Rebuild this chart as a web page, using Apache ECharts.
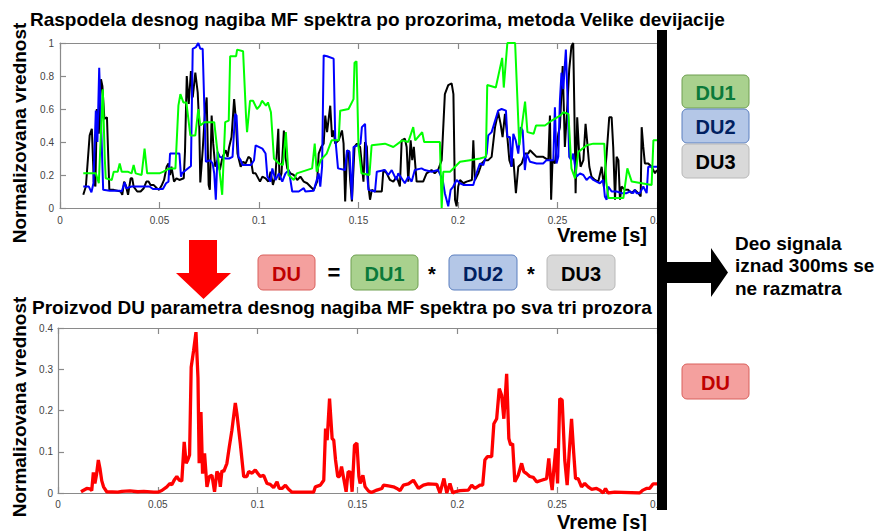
<!DOCTYPE html>
<html><head><meta charset="utf-8">
<script src="https://cdn.jsdelivr.net/npm/echarts@6.0.0/dist/echarts.min.js"></script>
<style>html,body{margin:0;padding:0;background:#fff}#c{width:877px;height:531px}</style>
</head><body><div id="c"></div>
<script>
// ---- data: [time (s), normalized value] ----
const du1Green = [[0.0117,0.21],[0.018,0.21],[0.0195,0.15],[0.0215,0.72],[0.0225,0.3],[0.023,0.18],[0.026,0.17],[0.027,0.22],[0.029,0.22],[0.030,0.27],[0.031,0.22],[0.034,0.22],[0.036,0.21],[0.037,0.26],[0.038,0.21],[0.041,0.2],[0.0425,0.36],[0.0438,0.21],[0.050,0.21],[0.052,0.22],[0.055,0.24],[0.058,0.24],[0.0595,0.62],[0.0605,0.69],[0.062,0.64],[0.0635,0.64],[0.0655,0.44],[0.068,0.44],[0.0695,0.6],[0.0705,0.5],[0.0725,0.52],[0.0775,0.52],[0.0815,0.08],[0.083,0.52],[0.0848,0.53],[0.0855,0.92],[0.0885,0.92],[0.089,0.96],[0.092,0.95],[0.0935,0.55],[0.094,0.46],[0.0955,0.65],[0.097,0.65],[0.099,0.6],[0.1005,0.62],[0.1015,0.65],[0.1035,0.62],[0.1045,0.64],[0.106,0.58],[0.1075,0.3],[0.110,0.27],[0.112,0.26],[0.1135,0.46],[0.1148,0.2],[0.1175,0.17],[0.119,0.21],[0.1267,0.24],[0.128,0.39],[0.129,0.22],[0.131,0.29],[0.134,0.33],[0.1365,0.41],[0.140,0.41],[0.1408,0.59],[0.145,0.6],[0.1475,0.66],[0.148,0.88],[0.149,0.89],[0.150,0.37],[0.1515,0.21],[0.1555,0.2],[0.1566,0.38],[0.1633,0.39],[0.1675,0.37],[0.172,0.41],[0.175,0.4],[0.1775,0.49],[0.1785,0.41],[0.182,0.46],[0.183,0.4],[0.1909,0.4],[0.1918,0.0],[0.1926,0.22],[0.196,0.22],[0.201,0.28],[0.206,0.29],[0.211,0.3],[0.214,0.31],[0.2147,0.745],[0.219,0.73],[0.2222,0.91],[0.223,0.73],[0.2248,1.0],[0.2287,1.0],[0.2308,0.38],[0.2337,0.645],[0.2349,0.46],[0.238,0.45],[0.2392,0.5],[0.2437,0.5],[0.2471,0.53],[0.2513,0.56],[0.253,0.58],[0.2555,0.57],[0.257,0.24],[0.2588,0.18],[0.2605,0.34],[0.2647,0.38],[0.268,0.39],[0.2735,0.39],[0.2745,0.16],[0.2756,0.06],[0.2831,0.06],[0.2851,0.24],[0.2873,0.16],[0.2973,0.14],[0.2982,0.41],[0.300,0.41]];

const du2Blue = [[0.0117,0.13],[0.0145,0.13],[0.0158,0.095],[0.0168,0.15],[0.018,0.59],[0.0188,0.4],[0.0197,0.85],[0.0208,0.45],[0.0217,0.11],[0.025,0.105],[0.030,0.105],[0.031,0.1],[0.0325,0.155],[0.0333,0.12],[0.036,0.13],[0.045,0.13],[0.0467,0.115],[0.0517,0.115],[0.0533,0.15],[0.0545,0.16],[0.0553,0.33],[0.060,0.33],[0.0608,0.19],[0.0613,0.21],[0.0658,0.255],[0.0667,0.965],[0.0683,0.975],[0.0695,1.0],[0.0705,0.965],[0.0717,0.965],[0.0733,0.28],[0.0753,0.29],[0.0767,0.27],[0.0775,0.21],[0.0783,0.05],[0.0792,0.34],[0.0803,0.31],[0.0833,0.3],[0.085,0.3],[0.0867,0.31],[0.088,0.57],[0.0887,0.56],[0.0897,0.31],[0.0908,0.29],[0.0917,0.26],[0.096,0.26],[0.0975,0.29],[0.0983,0.38],[0.1017,0.36],[0.1033,0.33],[0.1042,0.19],[0.1058,0.16],[0.1067,0.24],[0.1083,0.17],[0.110,0.21],[0.1117,0.16],[0.1133,0.21],[0.115,0.23],[0.1167,0.1],[0.120,0.1],[0.1225,0.12],[0.1233,0.1],[0.1275,0.105],[0.1283,0.14],[0.130,0.21],[0.1308,0.13],[0.1317,0.25],[0.1325,0.925],[0.1342,0.92],[0.1375,0.905],[0.1383,0.43],[0.1397,0.24],[0.1433,0.23],[0.1442,0.35],[0.1455,0.34],[0.1467,0.05],[0.1475,0.37],[0.1497,0.38],[0.151,0.39],[0.1517,0.49],[0.1533,0.51],[0.1542,0.23],[0.155,0.11],[0.1583,0.1],[0.1592,0.22],[0.1633,0.23],[0.165,0.2],[0.1667,0.23],[0.169,0.17],[0.170,0.21],[0.1733,0.15],[0.175,0.19],[0.1767,0.16],[0.1783,0.23],[0.1817,0.24],[0.1833,0.23],[0.1867,0.22],[0.190,0.23],[0.1923,0.17],[0.1934,0.09],[0.1951,0.01],[0.1963,0.11],[0.1976,0.13],[0.1993,0.17],[0.201,0.15],[0.2027,0.14],[0.2077,0.14],[0.2093,0.21],[0.211,0.27],[0.2127,0.26],[0.2144,0.33],[0.2152,0.44],[0.2169,0.46],[0.2202,0.59],[0.2219,0.6],[0.2241,0.59],[0.2248,0.43],[0.2261,0.43],[0.2269,0.25],[0.2278,0.45],[0.229,0.41],[0.2303,0.33],[0.2315,0.49],[0.2325,0.47],[0.2336,0.23],[0.2345,0.33],[0.2362,0.28],[0.2395,0.27],[0.2428,0.27],[0.2445,0.29],[0.2479,0.29],[0.2487,0.61],[0.2495,0.27],[0.2504,0.31],[0.2512,0.65],[0.252,0.82],[0.2529,0.72],[0.2542,0.96],[0.2551,0.65],[0.2559,0.31],[0.257,0.29],[0.2579,0.33],[0.2596,0.19],[0.2613,0.21],[0.263,0.2],[0.2646,0.17],[0.2663,0.19],[0.268,0.17],[0.2696,0.16],[0.2713,0.15],[0.273,0.17],[0.2738,0.07],[0.2747,0.05],[0.2755,0.13],[0.2772,0.1],[0.2797,0.1],[0.2822,0.09],[0.2847,0.09],[0.2864,0.1],[0.288,0.09],[0.2889,0.11],[0.2897,0.09],[0.2914,0.09],[0.2931,0.13],[0.2948,0.09],[0.2956,0.25],[0.300,0.25]];

const du3Black = [[0.0117,0.08],[0.013,0.13],[0.0149,0.44],[0.016,0.48],[0.017,0.16],[0.0178,0.13],[0.0185,0.6],[0.0195,0.45],[0.0206,0.78],[0.0213,0.74],[0.0223,0.54],[0.0236,0.55],[0.0248,0.11],[0.027,0.11],[0.0305,0.1],[0.0313,0.08],[0.0322,0.16],[0.033,0.14],[0.0342,0.08],[0.0355,0.18],[0.0363,0.18],[0.037,0.13],[0.0388,0.1],[0.0405,0.1],[0.0421,0.12],[0.0434,0.16],[0.0445,0.16],[0.0455,0.14],[0.047,0.14],[0.0487,0.12],[0.0498,0.11],[0.0512,0.14],[0.0523,0.17],[0.0536,0.25],[0.0545,0.27],[0.0553,0.2],[0.056,0.25],[0.0573,0.16],[0.0585,0.18],[0.060,0.17],[0.0622,0.18],[0.0628,0.34],[0.0637,0.8],[0.0647,0.63],[0.0658,0.83],[0.0667,0.67],[0.068,0.82],[0.0692,0.7],[0.070,0.49],[0.0705,0.155],[0.0717,0.35],[0.0728,0.57],[0.0737,0.67],[0.0747,0.14],[0.0753,0.11],[0.0762,0.56],[0.077,0.39],[0.078,0.25],[0.0792,0.29],[0.0803,0.23],[0.0817,0.31],[0.0833,0.35],[0.0842,0.31],[0.085,0.37],[0.0862,0.43],[0.0875,0.66],[0.0883,0.55],[0.0892,0.33],[0.090,0.29],[0.0908,0.25],[0.092,0.28],[0.0933,0.27],[0.0947,0.31],[0.0958,0.3],[0.097,0.21],[0.0983,0.21],[0.1005,0.16],[0.1017,0.19],[0.1033,0.18],[0.1047,0.16],[0.1058,0.22],[0.107,0.14],[0.1083,0.2],[0.1097,0.48],[0.1103,0.17],[0.1113,0.21],[0.1125,0.47],[0.1133,0.31],[0.1142,0.24],[0.1158,0.21],[0.1175,0.2],[0.1192,0.17],[0.1208,0.19],[0.1225,0.16],[0.1242,0.15],[0.1258,0.13],[0.1275,0.11],[0.1292,0.16],[0.130,0.33],[0.1313,0.37],[0.1325,0.39],[0.1333,0.56],[0.1342,0.46],[0.135,0.54],[0.1358,0.62],[0.1367,0.43],[0.1375,0.47],[0.1383,0.39],[0.140,0.41],[0.1417,0.47],[0.1425,0.39],[0.1433,0.04],[0.1442,0.33],[0.145,0.35],[0.1458,0.17],[0.1467,0.04],[0.148,0.37],[0.1492,0.39],[0.1508,0.37],[0.1525,0.16],[0.1533,0.4],[0.1542,0.37],[0.155,0.13],[0.1558,0.05],[0.1567,0.11],[0.1583,0.1],[0.1617,0.1],[0.1625,0.23],[0.1642,0.21],[0.1658,0.17],[0.1675,0.16],[0.1692,0.19],[0.1708,0.13],[0.1717,0.41],[0.1733,0.42],[0.1742,0.37],[0.175,0.16],[0.1762,0.41],[0.177,0.29],[0.1778,0.37],[0.1792,0.16],[0.1825,0.16],[0.1842,0.21],[0.1867,0.23],[0.1883,0.21],[0.190,0.23],[0.1918,0.29],[0.1934,0.69],[0.1951,0.745],[0.1968,0.755],[0.1977,0.69],[0.1985,0.05],[0.1993,0.01],[0.2001,0.13],[0.201,0.17],[0.2027,0.15],[0.2043,0.16],[0.207,0.17],[0.2077,0.41],[0.2085,0.17],[0.2102,0.21],[0.2119,0.27],[0.2135,0.29],[0.2152,0.29],[0.2169,0.31],[0.2186,0.49],[0.2202,0.58],[0.2214,0.51],[0.2224,0.43],[0.2236,0.57],[0.2248,0.43],[0.2258,0.29],[0.2269,0.25],[0.2278,0.3],[0.2291,0.09],[0.2303,0.25],[0.232,0.27],[0.2336,0.33],[0.2353,0.33],[0.2362,0.35],[0.2378,0.33],[0.2395,0.31],[0.2428,0.31],[0.2454,0.29],[0.2462,0.56],[0.2468,0.05],[0.2475,0.29],[0.2487,0.27],[0.2504,0.45],[0.2512,0.49],[0.2526,0.86],[0.2537,0.37],[0.255,0.63],[0.2559,0.84],[0.257,0.98],[0.2579,1.0],[0.2584,0.65],[0.2591,0.09],[0.2599,0.55],[0.2608,0.35],[0.2616,0.25],[0.263,0.29],[0.2641,0.51],[0.265,0.39],[0.266,0.25],[0.2671,0.19],[0.2688,0.17],[0.2705,0.16],[0.2722,0.25],[0.2733,0.13],[0.2747,0.33],[0.276,0.55],[0.2772,0.55],[0.278,0.37],[0.2789,0.05],[0.2797,0.31],[0.2806,0.29],[0.2814,0.05],[0.2822,0.13],[0.2839,0.11],[0.2856,0.11],[0.2872,0.09],[0.2889,0.11],[0.2906,0.09],[0.2918,0.07],[0.2923,0.49],[0.2931,0.37],[0.2939,0.27],[0.2956,0.27],[0.2973,0.25],[0.299,0.21],[0.300,0.23]];

const duRed = [[0.0115,0.003],[0.0144,0.011],[0.016,0.01],[0.0169,0.006],[0.0177,0.05],[0.0185,0.023],[0.0193,0.045],[0.0202,0.08],[0.021,0.06],[0.0219,0.03],[0.0228,0.015],[0.0244,0.003],[0.03,0.002],[0.032,0.004],[0.036,0.005],[0.04,0.003],[0.043,0.004],[0.048,0.002],[0.05,0.002],[0.052,0.006],[0.0545,0.015],[0.056,0.023],[0.057,0.02],[0.0584,0.033],[0.0595,0.04],[0.0607,0.031],[0.062,0.029],[0.0632,0.124],[0.0642,0.072],[0.065,0.08],[0.0659,0.092],[0.0667,0.305],[0.0679,0.345],[0.0691,0.39],[0.0701,0.28],[0.0707,0.072],[0.0716,0.196],[0.0724,0.047],[0.0734,0.096],[0.0746,0.015],[0.0758,0.04],[0.0771,0.043],[0.0784,0.003],[0.0796,0.052],[0.0805,0.045],[0.0813,0.015],[0.0821,0.054],[0.083,0.052],[0.0846,0.072],[0.0858,0.112],[0.0871,0.152],[0.0888,0.218],[0.0896,0.192],[0.0913,0.12],[0.093,0.04],[0.0946,0.04],[0.0955,0.052],[0.0972,0.048],[0.0988,0.056],[0.1,0.048],[0.1013,0.04],[0.103,0.043],[0.1047,0.023],[0.1063,0.021],[0.108,0.013],[0.1097,0.027],[0.1108,0.011],[0.1122,0.011],[0.1139,0.019],[0.1155,0.009],[0.1172,0.002],[0.128,0.002],[0.1289,0.015],[0.1314,0.019],[0.1331,0.031],[0.134,0.156],[0.1348,0.128],[0.136,0.229],[0.1373,0.132],[0.1381,0.128],[0.139,0.08],[0.1401,0.04],[0.141,0.04],[0.142,0.064],[0.1431,0.035],[0.1443,0.003],[0.1453,0.052],[0.1465,0.05],[0.1473,0.003],[0.1485,0.116],[0.1497,0.121],[0.1507,0.04],[0.1513,0.023],[0.1527,0.043],[0.1538,0.015],[0.1555,0.005],[0.157,0.001],[0.1597,0.007],[0.1622,0.011],[0.163,0.019],[0.1655,0.017],[0.168,0.015],[0.1697,0.011],[0.1713,0.006],[0.173,0.019],[0.1755,0.022],[0.178,0.031],[0.1805,0.011],[0.183,0.019],[0.1855,0.022],[0.1897,0.021],[0.1913,0.0],[0.1933,0.035],[0.1947,0.0],[0.1963,0.023],[0.1977,0.0],[0.1988,0.003],[0.2013,0.006],[0.2055,0.007],[0.2072,0.019],[0.2088,0.011],[0.2113,0.019],[0.2127,0.019],[0.2138,0.08],[0.215,0.088],[0.2172,0.088],[0.2183,0.168],[0.2197,0.18],[0.221,0.253],[0.2222,0.237],[0.2233,0.18],[0.2247,0.289],[0.2258,0.132],[0.2267,0.116],[0.2277,0.12],[0.2288,0.027],[0.2305,0.043],[0.2322,0.072],[0.2333,0.052],[0.2347,0.047],[0.2363,0.04],[0.238,0.038],[0.2397,0.027],[0.2422,0.031],[0.2447,0.035],[0.2458,0.084],[0.2467,0.035],[0.2475,0.007],[0.2483,0.056],[0.2493,0.108],[0.2502,0.023],[0.2513,0.229],[0.2525,0.225],[0.2538,0.08],[0.255,0.019],[0.256,0.096],[0.2572,0.18],[0.2583,0.096],[0.2592,0.035],[0.2605,0.035],[0.2622,0.015],[0.2638,0.023],[0.2655,0.015],[0.2672,0.009],[0.2697,0.011],[0.2713,0.007],[0.273,0.0],[0.2742,0.011],[0.2755,0.0],[0.2788,0.002],[0.2913,0.0],[0.293,0.007],[0.2947,0.011],[0.2963,0.011],[0.298,0.022],[0.300,0.022]];

// ---- axis ranges / texts ----
const timeRange = [0, 0.3, 0.05];
const topYRange = [0, 1, 0.2];
const botYRange = [0, 0.4, 0.1];
const titleTop = 'Raspodela desnog nagiba MF spektra po prozorima, metoda Velike devijacije';
const titleBottom = 'Proizvod DU parametra desnog nagiba MF spektra po sva tri prozora';
const yName = 'Normalizovana vrednost';
const xName = 'Vreme [s]';
const noteLines = ['Deo signala', 'iznad 300ms se', 'ne razmatra'];

const FF = '"Liberation Sans", Arial, sans-serif';
const AX = '#8a8a8a';
const fmt = v => String(+(+v).toFixed(2));

function xAx(grid, pos, showLabel, margin) {
  return {
    gridIndex: grid, type: 'value', position: pos,
    min: timeRange[0], max: timeRange[1], interval: timeRange[2],
    axisLine: { show: true, onZero: false, lineStyle: { color: AX, width: 1.2 } },
    axisTick: { show: true, inside: true, length: 6, lineStyle: { color: AX, width: 1.2 } },
    axisLabel: { show: showLabel, fontSize: 10, color: '#444', fontFamily: FF, margin: margin, formatter: fmt },
    splitLine: { show: false }
  };
}
function yAx(grid, r, margin) {
  return {
    gridIndex: grid, type: 'value', min: r[0], max: r[1], interval: r[2],
    axisLine: { show: true, lineStyle: { color: AX, width: 1.2 } },
    axisTick: { show: true, inside: true, length: 6, lineStyle: { color: AX, width: 1.2 } },
    axisLabel: { fontSize: 10, color: '#444', fontFamily: FF, margin: margin, formatter: fmt },
    splitLine: { show: false }
  };
}
function txt(text, x, y, size, color, align, rot) {
  return {
    type: 'text', x: x, y: y, rotation: rot || 0, z: 50,
    style: { text: text, fill: color, font: 'bold ' + size + 'px ' + FF,
      align: align || 'center', textAlign: align || 'center', verticalAlign: 'middle', textVerticalAlign: 'middle' }
  };
}
function box(label, x, y, w, h, fill, stroke, color) {
  return [
    { type: 'rect', z: 40, shape: { x: x, y: y, width: w, height: h, r: 5 }, style: { fill: fill, stroke: stroke, lineWidth: 1 } },
    txt(label, x + w / 2, y + h / 2 + 1, 20, color)
  ];
}
const G = ['#a9d18e', '#6f9f50', '#0b7a3a'];
const B = ['#b4c7e7', '#5b7fbf', '#002060'];
const K = ['#d9d9d9', '#b8b8b8', '#000000'];
const R = ['#f4a09e', '#d9605c', '#c00000'];

const graphics = [].concat(
  [txt(titleTop, 30, 19, 19, '#000', 'left'),
   txt(titleBottom, 32, 307.5, 19, '#000', 'left'),
   txt(yName, 19, 133, 19, '#000', 'center', Math.PI / 2),
   txt(yName, 19, 407, 19, '#000', 'center', Math.PI / 2),
   txt(xName, 647, 235, 20, '#000', 'right'),
   txt(xName, 647, 521.5, 20, '#000', 'right'),
   txt(noteLines[0], 735, 243, 19, '#000', 'left'),
   txt(noteLines[1], 735, 265.5, 19, '#000', 'left'),
   txt(noteLines[2], 735, 288, 19, '#000', 'left'),
   txt('=', 334, 272, 22, '#000'),
   txt('*', 432, 274, 20, '#000'),
   txt('*', 531, 274, 20, '#000'),
   { type: 'rect', z: 100, shape: { x: 657, y: 30, width: 10, height: 480 }, style: { fill: '#000' } },
   { type: 'polygon', z: 100, shape: { points: [[666,262],[711,262],[711,248],[728,272.5],[711,297],[711,283],[666,283]] }, style: { fill: '#000' } },
   { type: 'polygon', z: 100, shape: { points: [[189,240],[217,240],[217,273],[231,273],[203.5,299],[176,273],[189,273]] }, style: { fill: '#ff0000' } }
  ],
  box('DU1', 682, 75, 67, 33, G[0], G[1], G[2]),
  box('DU2', 682, 109, 67, 34, B[0], B[1], B[2]),
  box('DU3', 682, 144, 67, 34, K[0], K[1], K[2]),
  box('DU', 682, 364, 67, 35, R[0], R[1], R[2]),
  box('DU', 258, 255, 57, 35, R[0], R[1], R[2]),
  box('DU1', 351, 255, 67, 35, G[0], G[1], G[2]),
  box('DU2', 449, 255, 68, 35, B[0], B[1], B[2]),
  box('DU3', 547, 255, 68, 35, K[0], K[1], K[2])
);

const chart = echarts.init(document.getElementById('c'), null, { renderer: 'svg' });
chart.setOption({
  backgroundColor: '#fff',
  animation: false,
  grid: [
    { left: 60, top: 43, width: 597, height: 165 },
    { left: 58, top: 328, width: 599, height: 165 }
  ],
  xAxis: [xAx(0, 'bottom', true, 7), xAx(0, 'top', false, 7), xAx(1, 'bottom', true, 6), xAx(1, 'top', false, 6)],
  yAxis: [yAx(0, topYRange, 6), yAx(1, botYRange, 5)],
  series: [
    { name: 'DU3', type: 'line', xAxisIndex: 0, yAxisIndex: 0, data: du3Black, showSymbol: false, lineStyle: { color: '#000', width: 2 }, z: 2 },
    { name: 'DU2', type: 'line', xAxisIndex: 0, yAxisIndex: 0, data: du2Blue, showSymbol: false, lineStyle: { color: '#0000ff', width: 2 }, z: 3 },
    { name: 'DU1', type: 'line', xAxisIndex: 0, yAxisIndex: 0, data: du1Green, showSymbol: false, lineStyle: { color: '#00ff00', width: 2 }, z: 4 },
    { name: 'DU', type: 'line', xAxisIndex: 2, yAxisIndex: 1, data: duRed, showSymbol: false, lineStyle: { color: '#ff0000', width: 3.3 }, z: 2 }
  ],
  graphic: graphics
});
</script>
</body></html>
